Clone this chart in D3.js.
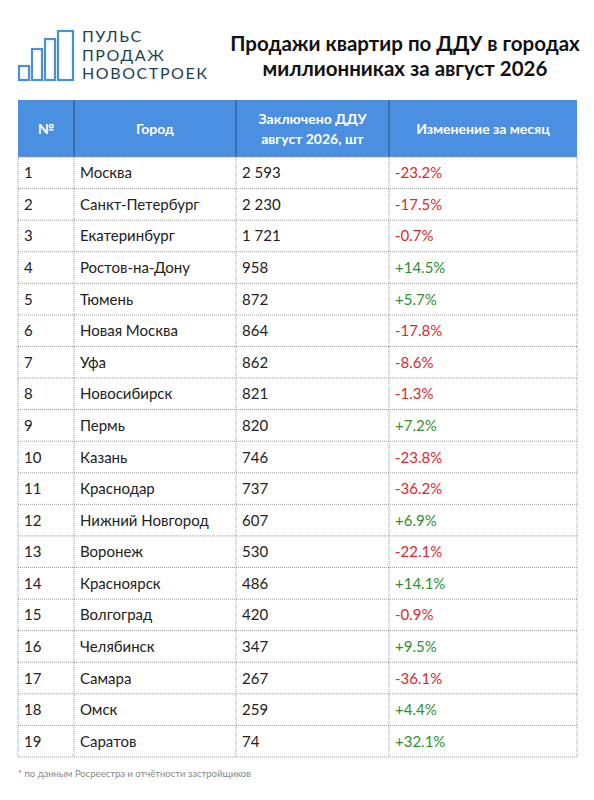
<!DOCTYPE html><html><head><meta charset="utf-8">
<script src="https://cdn.jsdelivr.net/npm/d3@7"></script>
<style>body{margin:0;background:#fff}text{font-family:Lato,sans-serif}</style></head><body>
<script>
const cities=["Москва","Санкт-Петербург","Екатеринбург","Ростов-на-Дону","Тюмень","Новая Москва","Уфа","Новосибирск","Пермь","Казань","Краснодар","Нижний Новгород","Воронеж","Красноярск","Волгоград","Челябинск","Самара","Омск","Саратов"];
const deals=["2 593","2 230","1 721","958","872","864","862","821","820","746","737","607","530","486","420","347","267","259","74"];
const changes=[-23.2,-17.5,-0.7,14.5,5.7,-17.8,-8.6,-1.3,7.2,-23.8,-36.2,6.9,-22.1,14.1,-0.9,9.5,-36.1,4.4,32.1];
const headers=["№","Город","Заключено ДДУ|август 2026, шт","Изменение за месяц"];

const svg=d3.select("body").append("svg").attr("width",594).attr("height",800);
const cols=[18,74,236,389,577];
const y=d3.scaleBand().domain(d3.range(19)).range([157,757]);
const lg=svg.append("g").attr("fill","none").attr("stroke","#4a8fdc").attr("stroke-width",2.2);
[[19,66,10,14],[32,49,10,31],[45,39,10,41],[58,31,15,49]].forEach(b=>lg.append("rect").attr("x",b[0]).attr("y",b[1]).attr("width",b[2]).attr("height",b[3]));
["ПУЛЬС","ПРОДАЖ","НОВОСТРОЕК"].forEach((t,i)=>svg.append("text").attr("x",82).attr("y",42+i*18.5).attr("font-size",16).attr("letter-spacing",1.6).attr("fill","#1d3f55").text(t));
["Продажи квартир по ДДУ в городах","миллионниках за август 2026"].forEach((t,i)=>svg.append("text").attr("x",405).attr("y",51+i*25).attr("text-anchor","middle").attr("font-size",20.5).attr("font-weight","bold").attr("fill","#111").text(t));
svg.append("rect").attr("x",18).attr("y",100).attr("width",559).attr("height",57).attr("fill","#4a8fe0");
headers.forEach((h,i)=>{const cx=(cols[i]+cols[i+1])/2;const ls=h.split("|");
 ls.forEach((l,j)=>svg.append("text").attr("x",cx).attr("y",134+(j-(ls.length-1)/2)*20).attr("text-anchor","middle").attr("font-size",14).attr("font-weight","bold").attr("fill","#fff").text(l));});
[74,236,389].forEach(x=>svg.append("line").attr("x1",x).attr("x2",x).attr("y1",100).attr("y2",157).attr("stroke","#2b4f7a").attr("stroke-width",1));
const g=svg.append("g").attr("stroke","#999").attr("stroke-dasharray","1,1");
d3.range(20).forEach(i=>{const yy=i<19?y(i):757;g.append("line").attr("x1",18).attr("x2",577).attr("y1",yy).attr("y2",yy);});
cols.forEach(x=>g.append("line").attr("x1",x).attr("x2",x).attr("y1",157).attr("y2",757));
const fmt=v=>(v>0?"+":"")+v.toFixed(1)+"%";
cities.forEach((c,i)=>{const yy=y(i)+y.bandwidth()/2+5.5;
 const vals=[String(i+1),c,deals[i],fmt(changes[i])];
 vals.forEach((v,j)=>svg.append("text").attr("x",cols[j]+6).attr("y",yy).attr("font-size",15).attr("fill",j<3?"#222":(changes[i]<0?"#e3262b":"#2f8f2f")).text(v));});
svg.append("text").attr("x",18).attr("y",777).attr("font-size",9.5).attr("fill","#888").text("* по данным Росреестра и отчётности застройщиков");
</script></body></html>
